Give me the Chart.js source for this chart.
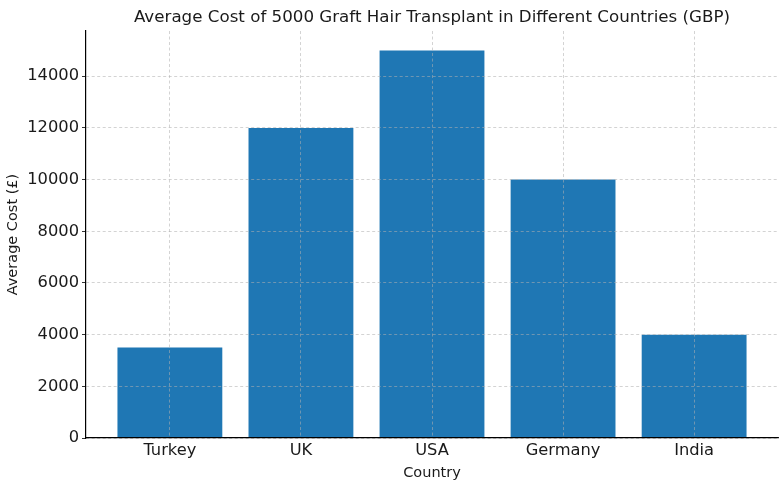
<!DOCTYPE html>
<html>
<head>
<meta charset="utf-8">
<script src="https://cdn.jsdelivr.net/npm/chart.js@4"></script>
<style>
    html, body { margin: 0; padding: 0; background: #fff; }
    #wrap { width: 783px; height: 484px; }
</style>
</head>
<body>
<div id="wrap"><canvas id="costChart"></canvas></div>
<script>
// Dados do gráfico
const countries = ['Turkey', 'UK', 'USA', 'Germany', 'India'];
const costs = [3500, 12000, 15000, 10000, 4000];
const yTicks = [0, 2000, 4000, 6000, 8000, 10000, 12000, 14000];

const TEXT_COLOR = '#1a1a1a';
const GRID_COLOR = 'rgba(176, 176, 176, 0.7)';

Chart.defaults.font.family = 'DejaVu Sans';
Chart.defaults.color = TEXT_COLOR;

const ctx = document.getElementById('costChart').getContext('2d');
new Chart(ctx, {
    type: 'bar',
    data: {
        datasets: [{
            data: countries.map((c, i) => ({ x: i, y: costs[i] })),
            backgroundColor: '#1f77b4',
            barPercentage: 0.8,
            categoryPercentage: 1.0
        }]
    },
    options: {
        responsive: true,
        maintainAspectRatio: false,
        animation: false,
        layout: { padding: { left: 5, right: 5, top: 0, bottom: 0 } },
        scales: {
            x: {
                type: 'linear',
                min: -0.64,
                max: 4.64,
                offset: false,
                afterBuildTicks(scale) {
                    scale.ticks = countries.map((c, i) => ({ value: i }));
                },
                afterFit(scale) {
                    scale.height = 46;
                },
                ticks: {
                    callback: (v) => countries[v],
                    font: { size: 16.3 },
                    color: TEXT_COLOR,
                    padding: 3,
                    maxRotation: 0
                },
                grid: {
                    z: 1,
                    offset: false,
                    color: GRID_COLOR,
                    lineWidth: 0.8,
                    drawTicks: false
                },
                border: { z: 2, color: '#000', width: 1.2, dash: [3, 2.5] },
                title: {
                    display: true,
                    text: 'Country',
                    font: { size: 14.5 },
                    color: TEXT_COLOR,
                    padding: { top: 2, bottom: 2 }
                }
            },
            y: {
                min: 0,
                max: 15750,
                afterBuildTicks(scale) {
                    scale.ticks = yTicks.map(v => ({ value: v }));
                },
                afterFit(scale) {
                    scale.width = 81;
                },
                ticks: {
                    callback: (v) => String(v),
                    font: { size: 16.3 },
                    color: TEXT_COLOR,
                    padding: 3
                },
                grid: {
                    z: 1,
                    color: GRID_COLOR,
                    lineWidth: 0.8,
                    tickLength: 4,
                    tickColor: '#333',
                    tickWidth: 1,
                    tickBorderDash: []
                },
                border: { z: 2, color: '#000', width: 1.2, dash: [3, 2.5] },
                title: {
                    display: true,
                    text: 'Average Cost (£)',
                    font: { size: 14.5 },
                    color: TEXT_COLOR,
                    padding: { top: 0, bottom: 0 }
                }
            }
        },
        plugins: {
            legend: { display: false },
            tooltip: { enabled: false },
            title: {
                display: true,
                fullSize: false,
                text: 'Average Cost of 5000 Graft Hair Transplant in Different Countries (GBP)',
                font: { size: 16.7, weight: 'normal' },
                color: TEXT_COLOR,
                padding: { top: 8, bottom: 3 }
            }
        }
    }
});
</script>
</body>
</html>
